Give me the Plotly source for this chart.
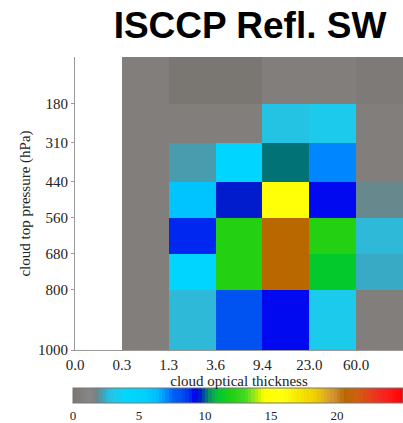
import plotly.graph_objects as go
import numpy as np

# ---- data ----
tau_labels = ['0.0', '0.3', '1.3', '3.6', '9.4', '23.0', '60.0']
tau_edges = [0, 1, 2, 3, 4, 5, 6, 7]          # equal-width bins of optical thickness
p_edges = [25, 180, 310, 440, 560, 680, 800, 1000]
p_ticks = [180, 310, 440, 560, 680, 800, 1000]

nan = None
row_25_180 = [nan, 0.5, 0.1, 0.1, 0.5, 0.5, 0.3]
row_180_310 = [nan, 0.5, 0.5, 0.5, 2.9, 3.1, 0.5]
row_310_440 = [nan, 0.5, 2.2, 4.5, 10.1, 7.1, 0.5]
row_440_560 = [nan, 0.5, 6.0, 9.6, 15.0, 9.2, 1.8]
row_560_680 = [nan, 0.5, 8.8, 12.0, 20.6, 12.0, 2.6]
row_680_800 = [nan, 0.5, 4.5, 12.0, 20.6, 11.2, 2.45]
row_800_1000 = [nan, 0.5, 2.7, 8.2, 9.0, 3.0, 0.5]
z = [row_25_180, row_180_310, row_310_440, row_440_560, row_560_680, row_680_800, row_800_1000]

cb_ticks = [0, 5, 10, 15, 20]
zmin, zmax = 0, 25

# ---- colour map (styling) ----
stops = [
    (0.0, '#787470'), (1.0, '#888484'), (1.4, '#868484'), (1.8, '#708484'),
    (2.2, '#40a0b8'), (2.6, '#30b8d8'), (3.0, '#20c8e8'), (4.0, '#00d8ff'),
    (5.5, '#00d0ff'), (6.3, '#00c0ff'), (7.0, '#0090ff'), (7.6, '#0060f8'),
    (8.2, '#0050f0'), (8.8, '#0030f0'), (9.2, '#0000f0'), (9.6, '#0018d0'),
    (10.1, '#007078'), (10.5, '#10a058'), (11.0, '#00c830'), (12.0, '#20d010'),
    (13.0, '#40d820'), (13.5, '#80e020'), (14.0, '#c0f000'), (14.5, '#ffff00'),
    (16.0, '#ffff10'), (17.0, '#f8e800'), (18.3, '#f0d000'), (19.0, '#e0b020'),
    (19.8, '#d09030'), (20.6, '#b86800'), (21.5, '#d06010'), (22.3, '#e04818'),
    (23.0, '#f03020'), (24.0, '#ff1818'), (25.0, '#ff0000'),
]
sv = np.array([s[0] for s in stops])
rgb = np.array([[int(c[1:3], 16), int(c[3:5], 16), int(c[5:7], 16)] for _, c in stops])
nb = 100
colorscale = []
for i in range(nb):
    mid = zmin + (i + 0.5) * (zmax - zmin) / nb
    col = [int(round(np.interp(mid, sv, rgb[:, k]))) for k in range(3)]
    cs = f'rgb({col[0]},{col[1]},{col[2]})'
    colorscale.append([i / nb, cs])
    colorscale.append([(i + 1) / nb, cs])

W, H = 403, 423
L, R, T, B = 75, 0, 57, 73
pw, ph = W - L - R, H - T - B

tick_font = dict(family='Liberation Serif', size=15, color='#222')
cb_font = dict(family='Liberation Serif', size=13, color='#222')

fig = go.Figure(go.Heatmap(
    x=tau_edges, y=p_edges, z=z,
    colorscale=colorscale, zmin=zmin, zmax=zmax,
    hoverongaps=False,
    colorbar=dict(
        orientation='h', thickness=15, len=330, lenmode='pixels',
        x=(73 - L) / pw, xanchor='left', y=(0 - 38) / ph, yanchor='top',
        xpad=0, ypad=0, outlinewidth=1, outlinecolor='#777',
        tickvals=cb_ticks, ticks='', tickfont=cb_font,
    ),
))

fig.update_layout(
    width=W, height=H,
    margin=dict(l=L, r=R, t=T, b=B),
    paper_bgcolor='white', plot_bgcolor='white',
    title=dict(text='<b>ISCCP Refl. SW</b>', x=250 / W, xanchor='center',
               y=1 - 12 / H, yanchor='top', xref='container', yref='container',
               font=dict(family='Liberation Sans', size=37, color='black')),
    font=tick_font,
)
fig.update_xaxes(
    range=[0, 7], tickvals=tau_edges[:-1], ticktext=tau_labels,
    showgrid=False, zeroline=False, showline=True, linecolor='#999', linewidth=1,
    ticks='outside', ticklen=1, tickcolor='rgba(0,0,0,0)', tickfont=tick_font,
    title=dict(text='cloud optical thickness', standoff=0,
               font=dict(family='Liberation Serif', size=15, color='#222')),
)
fig.update_yaxes(
    range=[1000, 25], tickvals=p_ticks, ticktext=[str(p) for p in p_ticks],
    showgrid=False, zeroline=False, showline=True, linecolor='#999', linewidth=1,
    ticks='outside', ticklen=3, tickcolor='#999', tickfont=tick_font,
    title=dict(text='cloud top pressure (hPa)', standoff=3,
               font=dict(family='Liberation Serif', size=15, color='#222')),
)

fig.write_html('out.html')
